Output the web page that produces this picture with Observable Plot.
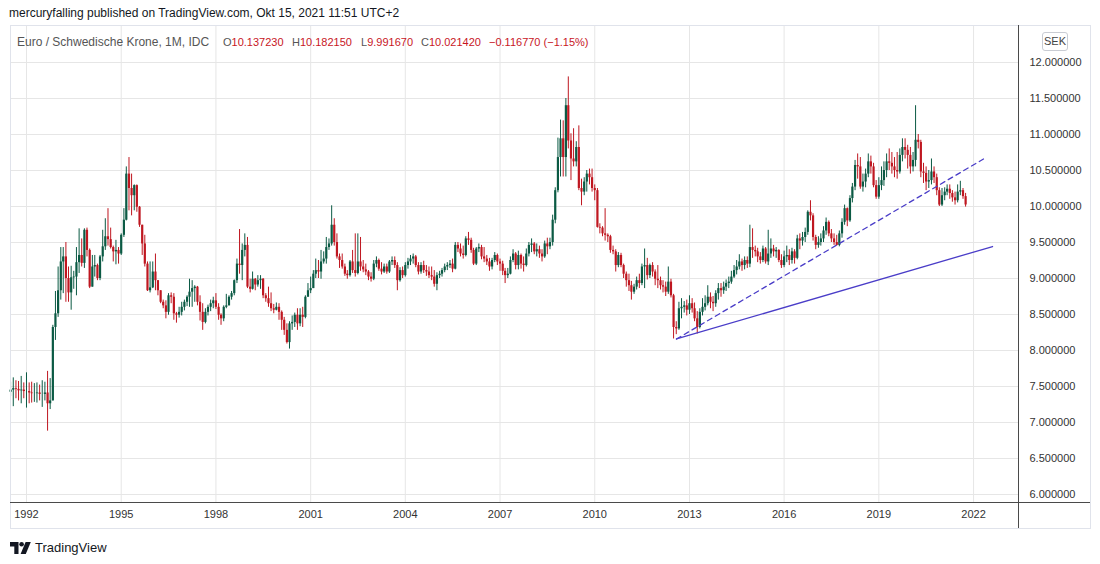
<!DOCTYPE html>
<html>
<head>
<meta charset="utf-8">
<script src="https://cdn.jsdelivr.net/npm/d3@7"></script>
<script src="https://cdn.jsdelivr.net/npm/@observablehq/plot@0.6"></script>
<style>
  body { margin: 0; background: #fff; font-family: "Liberation Sans", Arial, sans-serif; }
  #wrap { position: relative; width: 1100px; height: 564px; overflow: hidden; background: #fff; }
  #chart { position: absolute; left: 0; top: 0; }
  .abs { position: absolute; white-space: nowrap; }
  #pub { left: 9px; top: 6px; font-size: 12px; line-height: 14px; color: #131722; }
  .lg { top: 35px; font-size: 11px; line-height: 14px; color: #555; }
  .lg.name { font-size: 12px; }
  .lg b { font-weight: normal; color: #c8161f; }
  #sek { left: 1042px; top: 32px; width: 24px; height: 17px; border: 1px solid #c9ccd3; border-radius: 3px;
         font-size: 11px; line-height: 17px; text-align: center; color: #444; }
  #outer { left: 10px; top: 25px; width: 1079px; height: 502px; border: 1px solid #e0e3eb; }
  #vline { left: 1018px; top: 25px; width: 1px; height: 503px; background: #4a4a4a; }
  #hline { left: 10px; top: 502px; width: 1080px; height: 1px; background: #4a4a4a; }
  #brand { left: 10px; top: 540px; font-size: 13px; line-height: 15px; color: #131722; display: flex; align-items: center; }
  #brand svg { margin-right: 4px; }
</style>
</head>
<body>
<div id="wrap">
  <div id="chart"></div>
  <div class="abs" id="outer"></div>
  <div class="abs" id="vline"></div>
  <div class="abs" id="hline"></div>
  <div class="abs" id="pub">mercuryfalling published on TradingView.com, Okt 15, 2021 11:51 UTC+2</div>
  <div class="abs lg name" style="left:17px">Euro / Schwedische Krone, 1M, IDC</div>
  <div class="abs lg" style="left:223px">O<b>10.137230</b></div>
  <div class="abs lg" style="left:292px">H<b>10.182150</b></div>
  <div class="abs lg" style="left:361px">L<b>9.991670</b></div>
  <div class="abs lg" style="left:421px">C<b>10.021420</b></div>
  <div class="abs lg" style="left:489px"><b>−0.116770 (−1.15%)</b></div>
  <div class="abs" id="sek">SEK</div>
  <div class="abs" id="brand">
    <svg width="21" height="12" viewBox="0 0 21 12"><path d="M0 0h8.5v12h-4.2v-7.6H0z" fill="#131722"/><circle cx="11.6" cy="2.3" r="2.3" fill="#131722"/><path d="M15.6 0h5.2l-5 12h-5.2z" fill="#131722"/></svg>
    <span>TradingView</span>
  </div>
</div>
<script>
// ---- data: EUR/SEK monthly candles, Jul 1991 .. Oct 2021 ----
const firstMonth = "1991-07";
const firstOpen = 7.42;

const close = [
  7.45, 7.47, 7.46, 7.44, 7.45, 7.43,                                   // 1991 Jul-Dec
  7.43, 7.41, 7.40, 7.40, 7.41, 7.39, 7.39, 7.41, 7.26, 7.30, 8.32, 8.51, // 1992
  8.83, 9.23, 9.30, 9.00, 8.80, 9.01, 9.02, 9.22, 9.32, 9.21, 9.67, 9.39, // 1993
  8.88, 9.16, 9.18, 9.00, 9.30, 9.44, 9.58, 9.54, 9.43, 9.37, 9.39, 9.34, // 1994
  9.60, 9.81, 10.45, 10.25, 10.15, 10.29, 9.99, 9.74, 9.48, 9.20, 8.83, 8.87, // 1995
  9.09, 8.97, 8.83, 8.67, 8.62, 8.53, 8.76, 8.74, 8.51, 8.49, 8.53, 8.60, // 1996
  8.67, 8.74, 8.81, 8.86, 8.88, 8.67, 8.53, 8.39, 8.53, 8.60, 8.65, 8.69, // 1997
  8.60, 8.49, 8.44, 8.60, 8.62, 8.74, 8.79, 8.97, 9.20, 9.18, 9.39, 9.46, // 1998
  8.88, 8.85, 8.99, 8.91, 8.97, 8.99, 8.76, 8.72, 8.65, 8.58, 8.56, 8.60, // 1999
  8.53, 8.42, 8.28, 8.11, 8.37, 8.39, 8.49, 8.37, 8.49, 8.46, 8.74, 8.83, // 2000
  8.86, 9.06, 9.11, 9.09, 9.23, 9.27, 9.43, 9.48, 9.74, 9.50, 9.30, 9.25, // 2001
  9.16, 9.06, 9.04, 9.23, 9.11, 9.07, 9.23, 9.16, 9.12, 9.09, 9.02, 8.99, // 2002
  9.20, 9.25, 9.13, 9.09, 9.16, 9.09, 9.23, 9.25, 9.18, 8.97, 9.11, 9.04, // 2003
  9.18, 9.23, 9.27, 9.30, 9.18, 9.09, 9.18, 9.11, 9.09, 9.04, 9.02, 8.92, // 2004
  9.04, 9.06, 9.11, 9.16, 9.18, 9.20, 9.13, 9.46, 9.41, 9.34, 9.32, 9.55, // 2005
  9.53, 9.39, 9.20, 9.41, 9.43, 9.30, 9.27, 9.23, 9.16, 9.25, 9.32, 9.23, // 2006
  9.20, 9.10, 9.04, 9.06, 9.25, 9.34, 9.18, 9.32, 9.20, 9.18, 9.34, 9.46, // 2007
  9.48, 9.37, 9.40, 9.34, 9.30, 9.48, 9.44, 9.50, 9.81, 10.22, 10.68, 10.94, // 2008
  10.68, 11.40, 10.91, 10.66, 10.62, 10.82, 10.25, 10.20, 10.34, 10.45, 10.40, 10.25, // 2009
  10.22, 9.71, 9.70, 9.62, 9.60, 9.58, 9.39, 9.37, 9.18, 9.32, 9.18, 9.06, // 2010
  8.97, 8.90, 8.81, 8.88, 8.97, 8.93, 9.16, 9.18, 9.04, 9.18, 9.09, 8.99, // 2011
  8.97, 8.90, 8.88, 8.81, 8.95, 8.76, 8.32, 8.30, 8.58, 8.60, 8.62, 8.56, // 2012
  8.65, 8.58, 8.44, 8.32, 8.53, 8.60, 8.65, 8.74, 8.67, 8.65, 8.79, 8.86, // 2013
  8.83, 8.88, 8.93, 8.95, 9.02, 9.11, 9.16, 9.23, 9.18, 9.25, 9.20, 9.43, // 2014
  9.39, 9.37, 9.30, 9.25, 9.41, 9.23, 9.34, 9.41, 9.37, 9.39, 9.25, 9.18, // 2015
  9.30, 9.32, 9.25, 9.37, 9.28, 9.55, 9.52, 9.57, 9.64, 9.92, 9.87, 9.57, // 2016
  9.46, 9.50, 9.55, 9.66, 9.78, 9.62, 9.55, 9.50, 9.46, 9.62, 9.78, 9.97, // 2017
  9.80, 10.11, 10.27, 10.57, 10.55, 10.27, 10.34, 10.45, 10.62, 10.55, 10.29, 10.13, // 2018
  10.29, 10.36, 10.50, 10.62, 10.60, 10.55, 10.50, 10.48, 10.71, 10.82, 10.78, 10.71, // 2019
  10.55, 10.64, 10.92, 10.89, 10.48, 10.46, 10.34, 10.36, 10.48, 10.40, 10.22, 10.02, // 2020
  10.15, 10.20, 10.24, 10.18, 10.12, 10.08, 10.20, 10.22, 10.13723, 10.02142        // 2021 Jan-Oct
];

const high = [
  7.56, 7.62, 7.58, 7.57, 7.64, 7.55,
  7.69, 7.55, 7.56, 7.54, 7.55, 7.52, 7.58, 7.56, 7.71, 7.61, 8.35, 8.82,
  9.16, 9.43, 9.43, 9.50, 9.16, 9.17, 9.10, 9.43, 9.69, 9.55, 9.69, 9.70,
  9.41, 9.32, 9.32, 9.20, 9.32, 9.67, 9.83, 9.97, 9.70, 9.45, 9.53, 9.43,
  9.62, 9.97, 10.55, 10.68, 10.45, 10.30, 10.30, 10.00, 9.74, 9.60, 9.23, 9.23,
  9.23, 9.34, 8.97, 8.83, 8.70, 8.69, 8.79, 8.80, 8.79, 8.53, 8.60, 8.67,
  8.70, 8.76, 8.99, 8.97, 8.90, 8.89, 8.76, 8.65, 8.58, 8.63, 8.70, 8.74,
  8.79, 8.65, 8.51, 8.62, 8.78, 8.76, 8.82, 8.98, 9.27, 9.68, 9.48, 9.62,
  9.57, 8.99, 9.09, 9.00, 9.04, 9.04, 9.00, 8.79, 8.88, 8.80, 8.64, 8.66,
  8.65, 8.55, 8.46, 8.37, 8.40, 8.48, 8.52, 8.58, 8.58, 8.60, 8.76, 8.93,
  9.02, 9.11, 9.27, 9.25, 9.39, 9.37, 9.57, 9.55, 10.01, 9.83, 9.62, 9.34,
  9.34, 9.20, 9.11, 9.25, 9.39, 9.62, 9.62, 9.57, 9.25, 9.20, 9.11, 9.08,
  9.25, 9.30, 9.27, 9.22, 9.20, 9.20, 9.25, 9.30, 9.30, 9.22, 9.15, 9.16,
  9.22, 9.28, 9.32, 9.34, 9.32, 9.22, 9.22, 9.24, 9.18, 9.16, 9.16, 9.11,
  9.08, 9.10, 9.14, 9.20, 9.22, 9.25, 9.27, 9.50, 9.50, 9.48, 9.45, 9.58,
  9.64, 9.56, 9.42, 9.43, 9.48, 9.46, 9.43, 9.32, 9.28, 9.28, 9.36, 9.34,
  9.27, 9.24, 9.14, 9.14, 9.30, 9.40, 9.36, 9.38, 9.34, 9.30, 9.41, 9.50,
  9.55, 9.50, 9.48, 9.45, 9.40, 9.52, 9.56, 9.56, 9.88, 10.26, 10.95, 11.20,
  11.19, 11.50, 11.80, 11.01, 11.08, 10.90, 11.12, 10.38, 10.40, 10.50, 10.52, 10.52,
  10.30, 10.25, 9.76, 9.72, 9.97, 9.62, 9.60, 9.45, 9.40, 9.36, 9.35, 9.20,
  9.09, 9.06, 8.96, 8.92, 9.02, 9.06, 9.20, 9.41, 9.28, 9.20, 9.22, 9.12,
  9.18, 9.02, 8.97, 8.95, 9.16, 8.99, 8.78, 8.40, 8.67, 8.72, 8.68, 8.70,
  8.76, 8.72, 8.66, 8.54, 8.58, 8.72, 8.76, 8.90, 8.80, 8.75, 8.83, 8.93,
  8.93, 8.95, 8.98, 9.02, 9.10, 9.18, 9.25, 9.33, 9.27, 9.30, 9.30, 9.74,
  9.69, 9.45, 9.42, 9.36, 9.45, 9.43, 9.67, 9.55, 9.46, 9.43, 9.40, 9.33,
  9.38, 9.45, 9.40, 9.42, 9.40, 9.60, 9.62, 9.64, 9.70, 9.94, 10.08, 9.90,
  9.60, 9.58, 9.62, 9.72, 9.84, 9.80, 9.68, 9.62, 9.60, 9.66, 9.83, 10.02,
  9.98, 10.15, 10.32, 10.64, 10.73, 10.68, 10.45, 10.52, 10.73, 10.70, 10.60, 10.36,
  10.40, 10.55, 10.62, 10.73, 10.80, 10.75, 10.68, 10.75, 10.80, 10.94, 10.94, 10.85,
  10.82, 10.75, 11.40, 11.00, 10.92, 10.60, 10.55, 10.50, 10.66, 10.55, 10.45, 10.26,
  10.25, 10.26, 10.30, 10.30, 10.22, 10.20, 10.30, 10.35, 10.25, 10.18215
];

const low = [
  7.36, 7.22, 7.33, 7.30, 7.26, 7.33,
  7.20, 7.26, 7.27, 7.28, 7.27, 7.30, 7.21, 7.30, 6.88, 7.18, 7.30, 8.14,
  8.46, 8.70, 8.79, 8.67, 8.67, 8.56, 8.85, 8.76, 9.07, 9.16, 9.14, 9.30,
  8.86, 8.88, 9.02, 8.97, 8.97, 9.23, 9.39, 9.45, 9.41, 9.23, 9.19, 9.20,
  9.32, 9.57, 9.80, 9.94, 9.87, 9.94, 9.92, 9.71, 9.32, 9.16, 8.82, 8.80,
  8.86, 8.83, 8.76, 8.65, 8.58, 8.44, 8.49, 8.65, 8.42, 8.38, 8.45, 8.48,
  8.55, 8.61, 8.60, 8.60, 8.67, 8.62, 8.41, 8.28, 8.37, 8.48, 8.54, 8.58,
  8.57, 8.42, 8.35, 8.40, 8.58, 8.62, 8.70, 8.76, 8.93, 9.06, 8.97, 9.30,
  8.86, 8.80, 8.84, 8.83, 8.88, 8.85, 8.72, 8.67, 8.60, 8.54, 8.51, 8.55,
  8.42, 8.28, 8.21, 8.09, 8.02, 8.28, 8.32, 8.28, 8.33, 8.32, 8.44, 8.74,
  8.79, 8.86, 9.00, 9.00, 8.99, 9.20, 9.20, 9.39, 9.45, 9.45, 9.27, 9.14,
  9.13, 9.03, 8.99, 9.02, 9.07, 9.02, 9.05, 9.10, 9.08, 9.04, 8.97, 8.95,
  8.97, 9.15, 9.10, 9.05, 9.07, 9.06, 9.07, 9.18, 9.14, 8.83, 8.95, 9.00,
  9.02, 9.13, 9.18, 9.20, 9.15, 9.05, 9.06, 9.07, 9.03, 9.00, 8.97, 8.88,
  8.83, 9.00, 9.02, 9.08, 9.11, 9.14, 9.08, 9.12, 9.36, 9.30, 9.27, 9.30,
  9.46, 9.35, 9.18, 9.18, 9.36, 9.26, 9.22, 9.18, 9.10, 9.12, 9.22, 9.18,
  9.10, 9.04, 8.93, 9.00, 9.05, 9.22, 9.12, 9.12, 9.13, 9.09, 9.16, 9.30,
  9.36, 9.33, 9.30, 9.28, 9.23, 9.28, 9.33, 9.40, 9.45, 9.76, 10.19, 10.41,
  10.41, 10.41, 10.80, 10.36, 10.55, 10.55, 10.22, 10.01, 10.15, 10.20, 10.30, 10.20,
  10.08, 9.70, 9.62, 9.58, 9.52, 9.50, 9.35, 9.33, 9.09, 9.15, 9.15, 9.00,
  8.88, 8.82, 8.70, 8.78, 8.84, 8.86, 8.90, 8.86, 8.98, 9.00, 9.02, 8.90,
  8.86, 8.84, 8.80, 8.75, 8.78, 8.73, 8.16, 8.22, 8.28, 8.44, 8.52, 8.48,
  8.50, 8.52, 8.40, 8.23, 8.30, 8.48, 8.55, 8.62, 8.58, 8.54, 8.60, 8.70,
  8.74, 8.78, 8.82, 8.86, 8.92, 9.00, 9.05, 9.12, 9.10, 9.12, 9.14, 9.15,
  9.28, 9.30, 9.22, 9.20, 9.22, 9.20, 9.18, 9.28, 9.30, 9.28, 9.22, 9.14,
  9.15, 9.22, 9.18, 9.20, 9.20, 9.26, 9.40, 9.45, 9.50, 9.60, 9.80, 9.52,
  9.40, 9.42, 9.45, 9.50, 9.60, 9.58, 9.50, 9.46, 9.45, 9.44, 9.56, 9.74,
  9.72, 9.78, 10.05, 10.22, 10.38, 10.24, 10.20, 10.26, 10.40, 10.45, 10.26, 10.10,
  10.10, 10.22, 10.28, 10.40, 10.50, 10.45, 10.40, 10.38, 10.45, 10.62, 10.66, 10.52,
  10.45, 10.48, 10.55, 10.80, 10.40, 10.32, 10.22, 10.25, 10.30, 10.32, 10.15, 10.00,
  10.00, 10.08, 10.15, 10.10, 10.06, 10.02, 10.05, 10.15, 10.10, 9.99167
];

// axis ticks
const yearLabels = [1992, 1995, 1998, 2001, 2004, 2007, 2010, 2013, 2016, 2019, 2022];
const priceTicks = [6, 6.5, 7, 7.5, 8, 8.5, 9, 9.5, 10, 10.5, 11, 11.5, 12];

// visible window
const xStart = "1991-06-30", xEnd = "2023-06-05";
const yMin = 5.889, yMax = 12.514;

// drawn trend lines
const trendSolid  = [{date: "2012-08-04", value: 8.16}, {date: "2022-08-09", value: 9.444}];
const trendDashed = [{date: "2012-08-04", value: 8.16}, {date: "2022-04-26", value: 10.66}];

// ---- build ----
const [fy, fm] = firstMonth.split("-").map(Number);
const candles = close.map((c, i) => ({
  date: new Date(Date.UTC(fy, fm - 1 + i, 1)),
  open: i === 0 ? firstOpen : close[i - 1],
  high: high[i],
  low: low[i],
  close: c
}));
const UP = "#0b5a44", DOWN = "#bf1720";
const col = d => d.close >= d.open ? UP : DOWN;
const yearTicks = yearLabels.map(y => new Date(Date.UTC(y, 0, 1)));
const pd = a => a.map(d => ({date: new Date(d.date + "T00:00:00Z"), value: d.value}));

const chart = Plot.plot({
  width: 1100,
  height: 564,
  marginLeft: 10,
  marginRight: 82,
  marginTop: 25,
  marginBottom: 62,
  style: {fontFamily: "Liberation Sans, Arial, sans-serif", fontSize: "11px", color: "#333", background: "transparent"},
  x: {type: "utc", domain: [new Date(xStart + "T00:00:00Z"), new Date(xEnd + "T00:00:00Z")], axis: null},
  y: {domain: [yMin, yMax], axis: null},
  color: {type: "identity"},
  marks: [
    Plot.gridX(yearTicks, {stroke: "#e6e6e6", strokeOpacity: 1}),
    Plot.gridY(priceTicks, {stroke: "#e6e6e6", strokeOpacity: 1}),
    Plot.axisY(priceTicks, {anchor: "right", tickSize: 0, tickPadding: 11, tickFormat: d3.format(".6f"), fontSize: 11}),
    Plot.axisX(yearTicks, {anchor: "bottom", tickSize: 0, tickPadding: 8, tickFormat: d3.utcFormat("%Y"), fontSize: 11}),
    Plot.ruleX(candles, {x: "date", y1: "low", y2: "high", stroke: col, strokeWidth: 1}),
    Plot.ruleX(candles, {x: "date", y1: "open", y2: "close", stroke: col, strokeWidth: 2.2}),
    Plot.line(pd(trendSolid), {x: "date", y: "value", stroke: "#4a3dc8", strokeWidth: 1.3}),
    Plot.line(pd(trendDashed), {x: "date", y: "value", stroke: "#4a3dc8", strokeWidth: 1.3, strokeDasharray: "5,4"})
  ]
});
document.getElementById("chart").appendChild(chart);
</script>
</body>
</html>
